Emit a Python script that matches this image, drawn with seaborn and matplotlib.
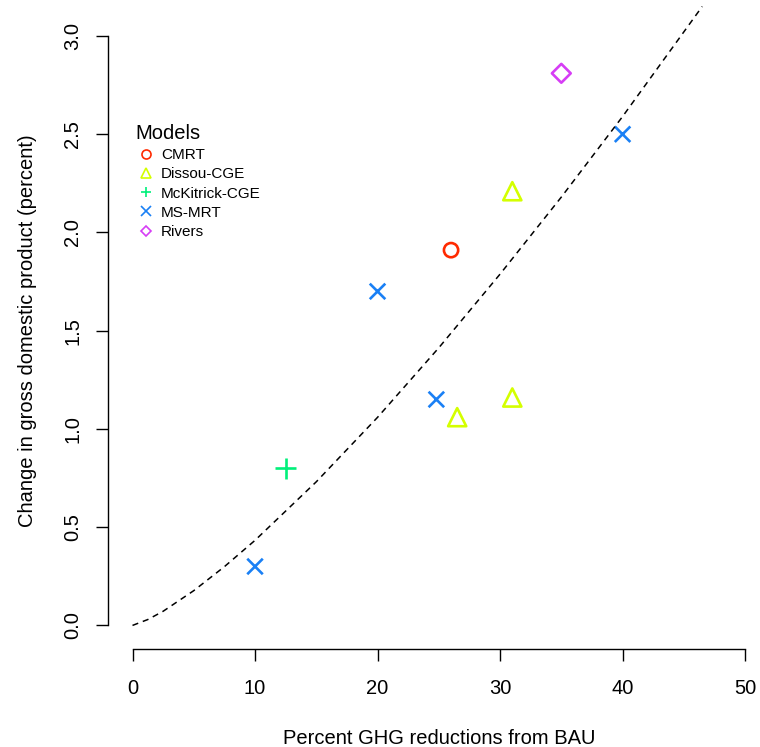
import matplotlib
matplotlib.use("Agg")
import matplotlib.pyplot as plt
from matplotlib.lines import Line2D
import seaborn as sns
import pandas as pd

# ---- data ----
model_names = ["CMRT", "Dissou-CGE", "McKitrick-CGE", "MS-MRT", "Rivers"]
model_colors = ["#FF2A00", "#D4FF00", "#00F07A", "#1A80F5", "#D63DF5"]
model_markers = ["o", "^", "+", "x", "D"]

point_model = ["CMRT", "Dissou-CGE", "Dissou-CGE", "Dissou-CGE", "McKitrick-CGE",
               "MS-MRT", "MS-MRT", "MS-MRT", "MS-MRT", "Rivers"]
ghg_reduction = [26, 31, 26.5, 31, 12.5, 10, 20, 24.8, 40, 35]
gdp_change = [1.91, 2.21, 1.06, 1.16, 0.80, 0.30, 1.70, 1.15, 2.50, 2.81]

curve_x = [0, 1.25, 2.5, 5, 7.5, 10, 15, 20, 25, 30, 35, 40, 46.5]
curve_y = [0, 0.030, 0.072, 0.177, 0.299, 0.433, 0.731, 1.059, 1.413, 1.788, 2.18, 2.59, 3.15]

x_ticks = [0, 10, 20, 30, 40, 50]
y_ticks = [0.0, 0.5, 1.0, 1.5, 2.0, 2.5, 3.0]

df = pd.DataFrame({"model": point_model, "ghg": ghg_reduction, "gdp": gdp_change})
curve_df = pd.DataFrame({"x": curve_x, "y": curve_y})

# ---- style ----
sns.set_style("ticks")
plt.rcParams["font.family"] = ["Liberation Sans", "DejaVu Sans"]
plt.rcParams["text.color"] = "black"
plt.rcParams["axes.labelcolor"] = "black"

W, H = 760, 747
fig = plt.figure(figsize=(W / 100, H / 100), dpi=100)
left_px, right_px, top_px, bottom_px = 108, 769.6, 12.4, 649
ax = fig.add_axes([left_px / W, (H - bottom_px) / H,
                   (right_px - left_px) / W, (bottom_px - top_px) / H])

ax.set_xlim(-2, 52)
ax.set_ylim(-0.12, 3.12)

# dashed fitted curve
sns.lineplot(data=curve_df, x="x", y="y", ax=ax, color="black", linestyle=(0, (4, 3.2)),
             linewidth=1.1, estimator=None, sort=False)
for ln in ax.lines:
    ln.set_clip_on(False)

sizes = {"o": 105, "^": 170, "+": 230, "x": 125, "D": 92}
for name, col, mk in zip(model_names, model_colors, model_markers):
    sub = df[df["model"] == name]
    n_before = len(ax.collections)
    sns.scatterplot(data=sub, x="ghg", y="gdp", ax=ax, marker=mk, s=sizes[mk],
                    color=col, linewidth=1.9, legend=False)
    for coll in ax.collections[n_before:]:
        coll.set_facecolor("none")
        coll.set_edgecolor(col)
        coll.set_linewidth(1.9)
        coll.set_clip_on(False)

# axes styling (R base style)
sns.despine(ax=ax, top=True, right=True)
ax.spines["left"].set_bounds(0, 3)
ax.spines["bottom"].set_bounds(0, 50)
for s in ["left", "bottom"]:
    ax.spines[s].set_linewidth(1.0)
    ax.spines[s].set_color("black")
ax.set_xticks(x_ticks)
ax.set_xticklabels([str(v) for v in x_ticks])
ax.set_yticks(y_ticks)
ax.set_yticklabels([f"{v:.1f}" for v in y_ticks], rotation=90, va="center")
ax.tick_params(axis="both", direction="out", length=8.6, width=1.0, color="black",
               labelsize=14.5, labelcolor="black")
ax.tick_params(axis="x", pad=13)
ax.tick_params(axis="y", pad=10)

ax.set_xlabel("Percent GHG reductions from BAU", fontsize=14.5, labelpad=22, color="black")
ax.set_ylabel("Change in gross domestic product (percent)", fontsize=14.5, labelpad=19,
              color="black")
ax.grid(False)
ax.set_facecolor("white")

# legend
handles = [Line2D([], [], linestyle="none", marker=mk, markersize=(6.5 if mk != "D" else 5.5),
                  markerfacecolor="none", markeredgecolor=col, markeredgewidth=1.2)
           for col, mk in zip(model_colors, model_markers)]
leg = ax.legend(handles, model_names, title="Models", loc="upper left",
                bbox_to_anchor=(135 / W, (H - 124) / H), bbox_transform=fig.transFigure,
                frameon=False, fontsize=11, title_fontsize=14.5, alignment="left",
                borderpad=0, borderaxespad=0, handlelength=1.4, handletextpad=0.3,
                labelspacing=0.34, numpoints=1)
for t in leg.get_texts():
    t.set_color("black")
leg.get_title().set_color("black")

fig.savefig("out.png", dpi=100, facecolor="white")
